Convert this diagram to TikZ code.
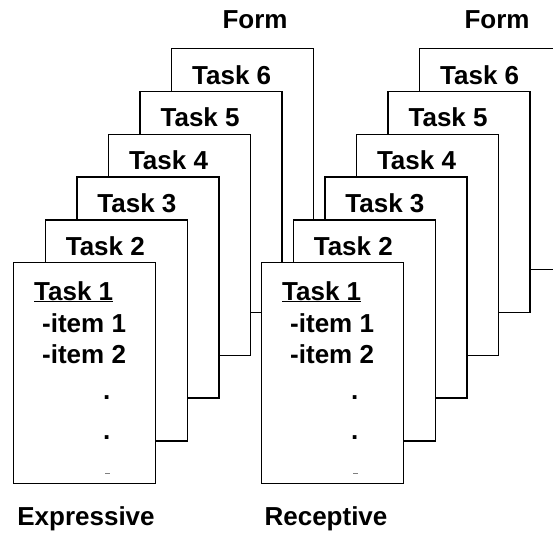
\documentclass[tikz,border=0pt]{standalone}
\usepackage{fontspec}
\setmainfont{Liberation Sans}
\usetikzlibrary{positioning}

\begin{document}
\begin{tikzpicture}[
  x=1pt, y=-1pt,
  sheet/.style={draw, line width=1.3pt, fill=white, anchor=north west,
    minimum width=142pt, minimum height=221pt, inner sep=0pt},
  task label/.style={anchor=base west, inner sep=0pt, font=\fontsize{26}{30}\selectfont\bfseries},
  stack label/.style={anchor=base, inner sep=0pt, font=\fontsize{26}{30}\selectfont\bfseries}
]
  \useasboundingbox (0,0) rectangle (553,533);
  \clip (0,0) rectangle (553,533);

  % Two stacks of task sheets, drawn from back to front
  \foreach \stack/\x in {exp/13, rec/261} {
    \foreach \k in {6,5,...,1} {
      \node[sheet] (\stack\k) at ({\x+31.6*(\k-1)}, {262-42.8*(\k-1)}) {};
      \ifnum\k>1
        \node[task label] (\stack\k-title) at ([xshift=21pt, yshift=-36pt]\stack\k.north west) {Task \k};
      \else
        \node[task label] (\stack\k-title) at ([xshift=21pt, yshift=-38pt]\stack\k.north west) {\underline{Task 1}};
        \node[task label] (\stack-item1) at ([xshift=29pt, yshift=-70pt]\stack\k.north west) {-item 1};
        \node[task label] (\stack-item2) at ([xshift=29pt, yshift=-101pt]\stack\k.north west) {-item 2};
        \node[task label] (\stack-dot1) at ([xshift=90pt, yshift=-137pt]\stack\k.north west) {.};
        \node[task label] (\stack-dot2) at ([xshift=90pt, yshift=-177pt]\stack\k.north west) {.};
        \draw[gray, line width=0.8pt] ([xshift=92pt, yshift=-211pt]\stack\k.north west) -- ++(5,0);
      \fi
    }
  }

  % Labels above and below the stacks
  \node[stack label] (exp-form) at (255,28) {Form};
  \node[stack label] (rec-form) at (497,28) {Form};
  \node[stack label] (exp-name) at (86,525) {Expressive};
  \node[stack label] (rec-name) at (326,525) {Receptive};
\end{tikzpicture}
\end{document}
